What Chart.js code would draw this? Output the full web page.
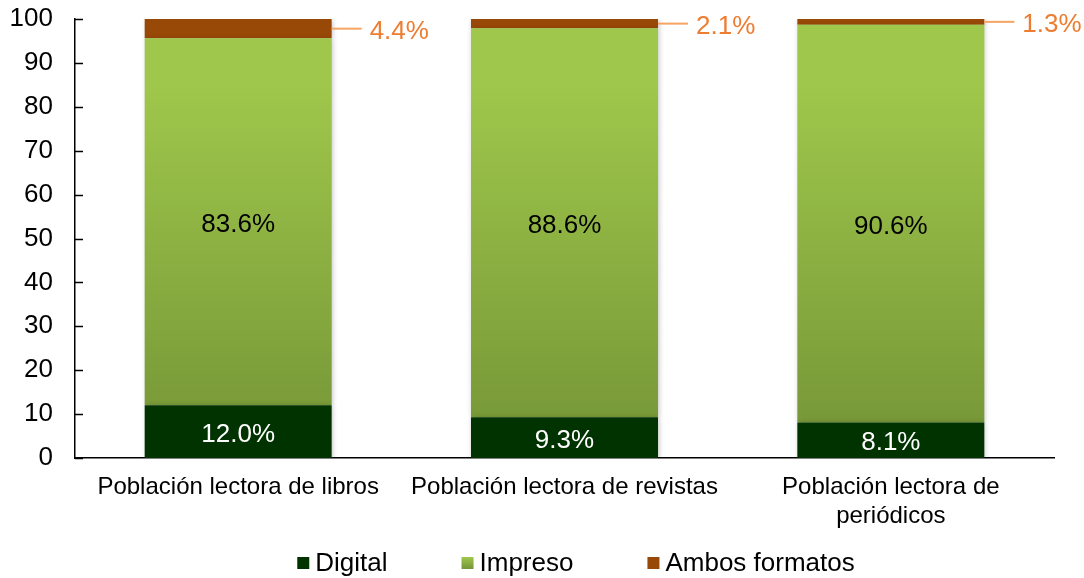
<!DOCTYPE html>
<html>
<head>
<meta charset="utf-8">
<script src="https://cdn.jsdelivr.net/npm/chart.js@4"></script>
<style>
  html, body { margin: 0; padding: 0; background: #fff; }
  #wrap { width: 1084px; height: 578px; }
</style>
</head>
<body>
<div id="wrap"><canvas id="lectura"></canvas></div>
<script>
// categorías (eje x)
const categorias = [
  "Población lectora de libros",
  "Población lectora de revistas",
  ["Población lectora de", "periódicos"]
];
// porcentajes por formato
const digital = [12.0, 9.3, 8.1];
const impreso = [83.6, 88.6, 90.6];
const ambos = [4.4, 2.1, 1.3];
// marcas del eje y
const yMin = 0, yMax = 100, yPaso = 10;

const FUENTE = "'Liberation Sans', Arial, sans-serif";
const VERDE_ARRIBA = "#9fc74b", VERDE_ABAJO = "#749436";

// degradado del verde (claro arriba, más oscuro abajo)
function verdeImpreso(context) {
  const chart = context.chart;
  const area = chart.chartArea;
  if (!area) return "#8fb843";
  const g = chart.ctx.createLinearGradient(0, area.top, 0, area.bottom);
  g.addColorStop(0, VERDE_ARRIBA);
  g.addColorStop(0.15, VERDE_ARRIBA);
  g.addColorStop(1, VERDE_ABAJO);
  return g;
}

// sombra ligera en las barras
const sombraBarras = {
  id: "sombraBarras",
  beforeDatasetsDraw(chart) {
    const ctx = chart.ctx;
    ctx.save();
    ctx.shadowColor = "rgba(0,0,0,0.25)";
    ctx.shadowBlur = 5;
    ctx.shadowOffsetX = 1;
    ctx.shadowOffsetY = 1;
  },
  afterDatasetsDraw(chart) {
    chart.ctx.restore();
  }
};

// marcas hacia dentro en el eje y
const marcasY = {
  id: "marcasY",
  afterDraw(chart) {
    const ctx = chart.ctx;
    const y = chart.scales.y;
    ctx.save();
    ctx.strokeStyle = "#000";
    ctx.lineWidth = 1.5;
    y.ticks.forEach(t => {
      const py = Math.round(y.getPixelForValue(t.value)) + 0.5;
      ctx.beginPath();
      ctx.moveTo(y.right, py);
      ctx.lineTo(y.right + 8, py);
      ctx.stroke();
    });
    ctx.restore();
  }
};

// etiquetas de datos
const etiquetas = {
  id: "etiquetas",
  afterDraw(chart) {
    const ctx = chart.ctx;
    ctx.save();
    ctx.font = "26px " + FUENTE;
    ctx.textBaseline = "middle";
    chart.data.datasets.forEach((ds, i) => {
      const meta = chart.getDatasetMeta(i);
      meta.data.forEach((bar, j) => {
        const txt = ds.data[j].toFixed(1) + "%";
        const cy = (bar.y + bar.base) / 2;
        if (i === 2) {
          const x0 = bar.x + bar.width / 2;
          ctx.strokeStyle = "#f5a461";
          ctx.lineWidth = 2;
          ctx.beginPath();
          ctx.moveTo(x0, cy);
          ctx.lineTo(x0 + 30, cy);
          ctx.stroke();
          ctx.fillStyle = "#ed7d31";
          ctx.textAlign = "left";
          ctx.fillText(txt, x0 + 38, cy + 3);
        } else {
          ctx.fillStyle = i === 0 ? "#ffffff" : "#000000";
          ctx.textAlign = "center";
          ctx.fillText(txt, bar.x, cy + 3);
        }
      });
    });
    ctx.restore();
  }
};

// leyenda inferior dibujada a mano
const leyenda = {
  id: "leyenda",
  afterDraw(chart) {
    const ctx = chart.ctx;
    const caja = 12, hueco = 6, sep = 74, centro = 576, yc = 563;
    ctx.save();
    ctx.font = "26px " + FUENTE;
    ctx.textBaseline = "middle";
    ctx.textAlign = "left";
    const items = chart.data.datasets.map(ds => ({
      texto: ds.label,
      ancho: caja + hueco + ctx.measureText(ds.label).width
    }));
    const total = items.reduce((s, it) => s + it.ancho, 0) + sep * (items.length - 1);
    let x = centro - total / 2;
    items.forEach((it, i) => {
      if (i === 1) {
        const g = ctx.createLinearGradient(0, yc - caja / 2, 0, yc + caja / 2);
        g.addColorStop(0, VERDE_ARRIBA);
        g.addColorStop(1, VERDE_ABAJO);
        ctx.fillStyle = g;
      } else {
        ctx.fillStyle = chart.data.datasets[i].backgroundColor;
      }
      ctx.fillRect(x, yc - caja / 2, caja, caja);
      ctx.fillStyle = "#000";
      ctx.fillText(it.texto, x + caja + hueco, yc + 1);
      x += it.ancho + sep;
    });
    ctx.restore();
  }
};

new Chart(document.getElementById("lectura"), {
  type: "bar",
  data: {
    labels: categorias,
    datasets: [
      { label: "Digital", data: digital, backgroundColor: "#013300" },
      { label: "Impreso", data: impreso, backgroundColor: verdeImpreso },
      { label: "Ambos formatos", data: ambos, backgroundColor: "#984807" }
    ]
  },
  options: {
    responsive: true,
    maintainAspectRatio: false,
    animation: false,
    layout: { padding: { top: 19, right: 30, left: 0, bottom: 0 } },
    datasets: {
      bar: { categoryPercentage: 1, barPercentage: 0.573, borderWidth: 0 }
    },
    scales: {
      x: {
        stacked: true,
        grid: { display: false },
        border: { display: true, color: "#000", width: 1.5 },
        ticks: {
          color: "#000",
          font: { family: FUENTE, size: 24, lineHeight: 1.2 },
          padding: 7,
          maxRotation: 0,
          autoSkip: false
        },
        afterFit(scale) {
          scale.height = 120;
          scale.paddingLeft = 0;
          scale.paddingRight = 0;
        }
      },
      y: {
        stacked: true,
        min: yMin,
        max: yMax,
        grid: { display: false },
        border: { display: true, color: "#000", width: 1.5 },
        ticks: {
          stepSize: yPaso,
          color: "#000",
          font: { family: FUENTE, size: 26 },
          padding: 14
        },
        afterFit(scale) {
          scale.width = 75;
          scale.paddingTop = 0;
          scale.paddingBottom = 0;
        }
      }
    },
    plugins: {
      legend: { display: false },
      tooltip: { enabled: false }
    }
  },
  plugins: [sombraBarras, marcasY, etiquetas, leyenda]
});
</script>
</body>
</html>
